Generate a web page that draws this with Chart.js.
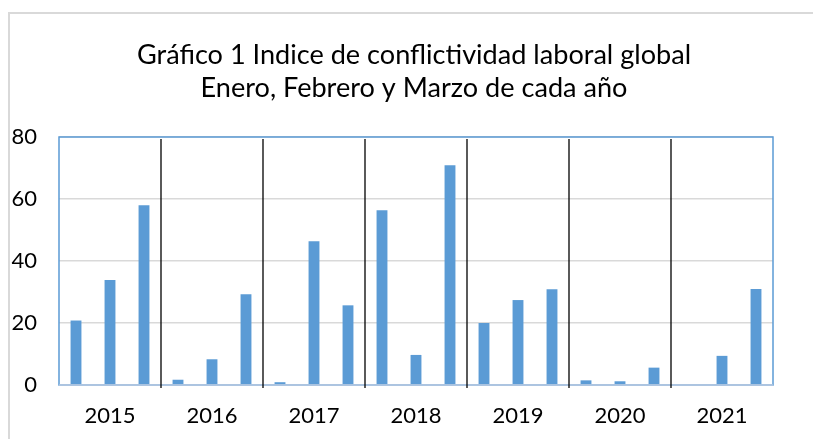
<!DOCTYPE html>
<html>
<head>
<meta charset="utf-8">
<script src="https://cdn.jsdelivr.net/npm/chart.js@4"></script>
<style>
  body { margin: 0; background: #fff; }
  #wrap { width: 814px; height: 439px; }
</style>
</head>
<body>
<div id="wrap"><canvas id="chartConflictos" width="814" height="439"></canvas></div>
<script>
// datos
const anios = ['2015', '2016', '2017', '2018', '2019', '2020', '2021'];
const enero = [20.8, 1.7, 0.9, 56.4, 20.0, 1.5, 0];
const febrero = [33.9, 8.3, 46.4, 9.7, 27.4, 1.2, 9.4];
const marzo = [58.0, 29.3, 25.7, 70.9, 30.9, 5.6, 31.0];
const ticksY = [0, 20, 40, 60, 80];
const titulo = ['Gráfico 1 Indice de conflictividad laboral global', 'Enero, Febrero y Marzo de cada año'];

const azul = '#5B9BD5';
const fuente = 'Lato';

// tamaño del titulo para que la primera linea mida ~555px como en el original
const medir = document.createElement('canvas').getContext('2d');
medir.font = '24px ' + fuente;
const tamTitulo = Math.round(24 * 555 / medir.measureText(titulo[0]).width * 10) / 10;

// fondo, marco exterior, titulo, borde del area y separadores de anio
const marcos = {
  id: 'marcos',
  beforeDraw(chart) {
    const c = chart.ctx;
    c.save();
    c.fillStyle = '#fff';
    c.fillRect(0, 0, chart.width, chart.height);
    c.strokeStyle = '#D9D9D9';
    c.lineWidth = 2;
    c.beginPath();
    c.moveTo(9, chart.height);
    c.lineTo(9, 13);
    c.lineTo(813, 13);
    c.stroke();
    c.fillStyle = '#000';
    c.font = tamTitulo + 'px ' + fuente;
    c.textAlign = 'center';
    c.textBaseline = 'alphabetic';
    c.fillText(titulo[0], 414, 64);
    c.fillText(titulo[1], 414, 97);
    c.restore();
  },
  afterDatasetsDraw(chart) {
    const c = chart.ctx;
    const a = chart.chartArea;
    const x = chart.scales.x;
    c.save();
    c.strokeStyle = azul;
    c.lineWidth = 1.5;
    c.strokeRect(a.left, a.top, a.right - a.left, a.bottom - a.top);
    c.strokeStyle = '#BCCDE3';
    c.beginPath();
    c.moveTo(a.left, a.bottom);
    c.lineTo(a.right, a.bottom);
    c.stroke();
    c.strokeStyle = '#000';
    c.lineWidth = 1.3;
    for (let i = 0; i < anios.length - 1; i++) {
      const px = (x.getPixelForValue(i) + x.getPixelForValue(i + 1)) / 2;
      c.beginPath();
      c.moveTo(px, a.top + 2);
      c.lineTo(px, a.bottom + 3);
      c.stroke();
    }
    c.restore();
  }
};

const serie = (label, data) => ({
  label: label,
  data: data,
  backgroundColor: azul,
  borderWidth: 0,
  categoryPercentage: 1,
  barPercentage: 0.32
});

new Chart(document.getElementById('chartConflictos'), {
  type: 'bar',
  data: {
    labels: anios,
    datasets: [serie('Enero', enero), serie('Febrero', febrero), serie('Marzo', marzo)]
  },
  options: {
    responsive: false,
    animation: false,
    layout: { padding: { left: 0, right: 41, top: 137, bottom: 0 } },
    plugins: {
      legend: { display: false },
      tooltip: { enabled: false },
      title: { display: false }
    },
    scales: {
      x: {
        afterFit(s) { s.height = 54; },
        grid: { display: false, drawTicks: false },
        border: { display: false },
        ticks: { color: '#000', font: { family: fuente, size: 22 }, padding: 18 }
      },
      y: {
        min: 0,
        max: 80,
        afterFit(s) { s.width = 59; },
        afterBuildTicks(s) { s.ticks = ticksY.map(v => ({ value: v })); },
        grid: { color: '#D9D9D9', lineWidth: 1.5, drawTicks: false },
        border: { display: false },
        ticks: { color: '#000', font: { family: fuente, size: 22 }, padding: 22 }
      }
    }
  },
  plugins: [marcos]
});
</script>
</body>
</html>
